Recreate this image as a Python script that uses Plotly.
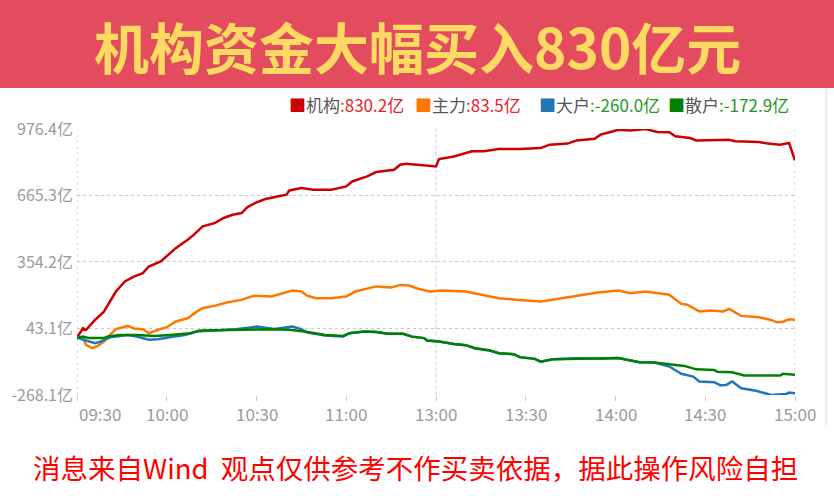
import plotly.graph_objects as go

# ---------------- data ----------------
title_text = "机构资金大幅买入830亿元"
footer_text = "消息来自Wind  观点仅供参考不作买卖依据，据此操作风险自担"

series_names = ["机构", "主力", "大户", "散户"]
series_final = [830.2, 83.5, -260.0, -172.9]
series_colors = ["#CC0000", "#FF7700", "#1F77B4", "#008000"]

# minutes since 09:30 in trading time (11:30 and 13:00 share minute 120)
jg_min = [0, 2, 3, 4, 6, 9, 11, 13, 16, 19, 22, 24, 28, 30, 33, 37, 39, 42, 46, 49,
          52, 55, 57, 60, 63, 67, 70, 71, 75, 79, 85, 90, 92, 97, 100, 106, 108, 110, 116, 120,
          121, 126, 132, 136, 141, 148, 155, 158, 164, 167, 173, 175, 178, 181, 185, 190, 194, 198, 200, 205,
          207, 213, 218, 220, 228, 231, 235, 238, 239, 240]
jg_val = [0, 44, 36, 52, 83, 122, 169, 216, 263, 286, 302, 333, 357, 380, 419, 458, 481, 521, 536, 560,
          575, 583, 611, 633, 649, 661, 669, 689, 700, 692, 692, 708, 731, 755, 775, 786, 809, 814, 806, 801,
          836, 848, 872, 872, 883, 883, 887, 903, 908, 923, 931, 950, 961, 973, 969, 976.4, 962, 961, 942, 934,
          923, 923, 926, 919, 915, 908, 903, 911, 872, 830.2]

zl_min = [0, 2, 3, 5, 7, 9, 11, 13, 17, 19, 22, 24, 27, 30, 33, 37, 40, 42, 46, 50,
          55, 59, 65, 69, 72, 75, 77, 80, 85, 90, 93, 100, 105, 108, 111, 114, 118, 122, 130, 134,
          141, 147, 155, 161, 167, 174, 181, 185, 190, 195, 198, 202, 204, 208, 212, 216, 218, 222, 228, 232,
          234, 236, 238, 240]
zl_val = [0, 0, -33, -49, -38, -18, 13, 40, 55, 43, 40, 21, 36, 49, 76, 91, 122, 138, 149, 165,
          177, 196, 193, 208, 221, 216, 196, 185, 185, 193, 216, 240, 235, 247, 244, 229, 216, 221, 216, 204,
          185, 177, 169, 182, 197, 211, 221, 208, 216, 205, 201, 158, 154, 123, 127, 123, 135, 102, 96, 83,
          72, 75, 86, 83.5]

dh_min = [0, 2, 4, 6, 8, 9, 11, 17, 20, 24, 27, 31, 36, 40, 45, 53, 60, 66, 72, 75,
          77, 83, 89, 91, 96, 100, 104, 109, 112, 116, 117, 121, 126, 130, 133, 138, 141, 146, 148, 153,
          155, 159, 168, 175, 181, 185, 188, 193, 198, 202, 206, 208, 213, 215, 217, 219, 222, 227, 232, 237,
          238, 240]
dh_val = [0, -8, -18, -26, -18, -10, 2, 13, 5, -10, -7, 2, 13, 29, 34, 40, 52, 41, 52, 40,
          24, 10, 6, 21, 29, 27, 18, 18, 5, -2, -13, -18, -29, -35, -49, -60, -73, -77, -91, -99,
          -112, -101, -96, -98, -95, -107, -115, -116, -135, -169, -182, -205, -208, -222, -221, -205, -237, -248, -268.1, -264,
          -257, -260.0]

sh_min = [0, 2, 4, 9, 10, 14, 20, 26, 31, 38, 41, 48, 56, 65, 71, 76, 78, 83, 89, 91,
          96, 100, 104, 109, 112, 116, 117, 121, 126, 130, 133, 138, 141, 146, 148, 153, 155, 159, 168, 175,
          181, 185, 188, 193, 199, 203, 207, 213, 214, 219, 223, 235, 236, 240]
sh_val = [0, 5, -2, -2, 5, 13, 13, 8, 13, 21, 34, 34, 37, 40, 37, 29, 24, 13, 8, 21,
          29, 27, 18, 18, 5, -2, -13, -18, -29, -35, -49, -60, -73, -77, -91, -99, -112, -101, -98, -98,
          -95, -107, -115, -116, -124, -132, -148, -151, -159, -162, -177, -177, -169, -172.9]

x_tick_min = [0, 30, 60, 90, 120, 150, 180, 210, 240]
x_tick_labels = ["09:30", "10:00", "10:30", "11:00", "13:00", "13:30", "14:00", "14:30", "15:00"]
session_bounds = [0, 120, 240]
y_tick_labels = ["-268.1亿", "43.1亿", "354.2亿", "665.3亿", "976.4亿"]
y_tick_vals = [float(t.replace("亿", "")) for t in y_tick_labels]

# ---------------- layout geometry ----------------
W, H = 834, 502
L, R, T, B = 77, 39, 129, 107
PW, PH = W - L - R, H - T - B
FONT = "Noto Sans CJK SC"
legend_x = [287, 413, 537, 666]


def pxx(X):
    return (X - L) / PW


def pxy(Y):
    return (H - B - Y) / PH


fig = go.Figure()
xs = [jg_min, zl_min, dh_min, sh_min]
ys = [jg_val, zl_val, dh_val, sh_val]
for name, xv, yv, col in zip(series_names, xs, ys, series_colors):
    fig.add_trace(go.Scatter(x=xv, y=yv, mode="lines", name=name,
                             line=dict(color=col, width=2.5), hoverinfo="skip"))

shapes = []
# title band
shapes.append(dict(type="rect", xref="paper", yref="paper", x0=pxx(0), x1=pxx(W),
                   y0=pxy(88), y1=pxy(0), fillcolor="#E34B5E", line=dict(width=0), layer="below"))
# right light border
shapes.append(dict(type="line", xref="paper", yref="paper", x0=pxx(826), x1=pxx(826),
                   y0=pxy(425), y1=pxy(88), line=dict(color="#E3E3E3", width=1.5)))
# session boundary gridlines
for sb in session_bounds:
    shapes.append(dict(type="line", xref="x", yref="paper", x0=sb, x1=sb, y0=0, y1=1,
                       line=dict(color="#C8C8C8", width=1, dash="dot"), layer="below"))

annotations = []
annotations.append(dict(text="<b>" + title_text + "</b>", xref="paper", yref="paper",
                        x=pxx(417), y=pxy(45), xanchor="center", yanchor="middle", showarrow=False,
                        font=dict(family=FONT, size=55, color="#FFDA63")))
annotations.append(dict(text=footer_text, xref="paper", yref="paper",
                        x=pxx(415), y=pxy(467), xanchor="center", yanchor="middle", showarrow=False,
                        font=dict(family=FONT, size=27.5, color="#FF0000")))

# legend items
for name, val, col, lx in zip(series_names, series_final, series_colors, legend_x):
    vcol = "#E8202A" if val >= 0 else "#1A9A1A"
    txt = (f"<span style='color:{col}'>■</span><span style='color:#555555'>{name}</span>"
           f"<span style='color:{vcol}'>:{val:.1f}亿</span>")
    annotations.append(dict(text=txt, xref="paper", yref="paper",
                            x=pxx(lx), y=pxy(104), xanchor="left", yanchor="middle", showarrow=False,
                            font=dict(family=FONT, size=17)))

# x labels
for i, (m, lab) in enumerate(zip(x_tick_min, x_tick_labels)):
    annotations.append(dict(text=lab, xref="x", yref="paper", x=m, y=0,
                            xanchor="left" if i == 0 else "center", yanchor="top", yshift=-4,
                            showarrow=False, font=dict(family=FONT, size=17, color="#9A9A9A")))

fig.update_layout(
    width=W, height=H, margin=dict(l=L, r=R, t=T, b=B),
    paper_bgcolor="white", plot_bgcolor="white", showlegend=False,
    shapes=shapes, annotations=annotations,
    xaxis=dict(range=[0, 240], showgrid=False, zeroline=False, showline=False,
               tickvals=x_tick_min, showticklabels=False, ticks="outside", ticklen=5,
               tickcolor="#CCCCCC", tickwidth=1),
    yaxis=dict(range=[y_tick_vals[0], y_tick_vals[-1]], tickvals=y_tick_vals, ticktext=y_tick_labels,
               showgrid=True, gridcolor="#C8C8C8", griddash="dot", gridwidth=1,
               zeroline=False, showline=False, ticks="", ticklabelstandoff=3,
               tickfont=dict(family=FONT, size=16, color="#9A9A9A")),
)

fig.write_html("out.html", config={"displayModeBar": False},
               post_script="document.body.style.margin='0';document.body.style.padding='0';")
